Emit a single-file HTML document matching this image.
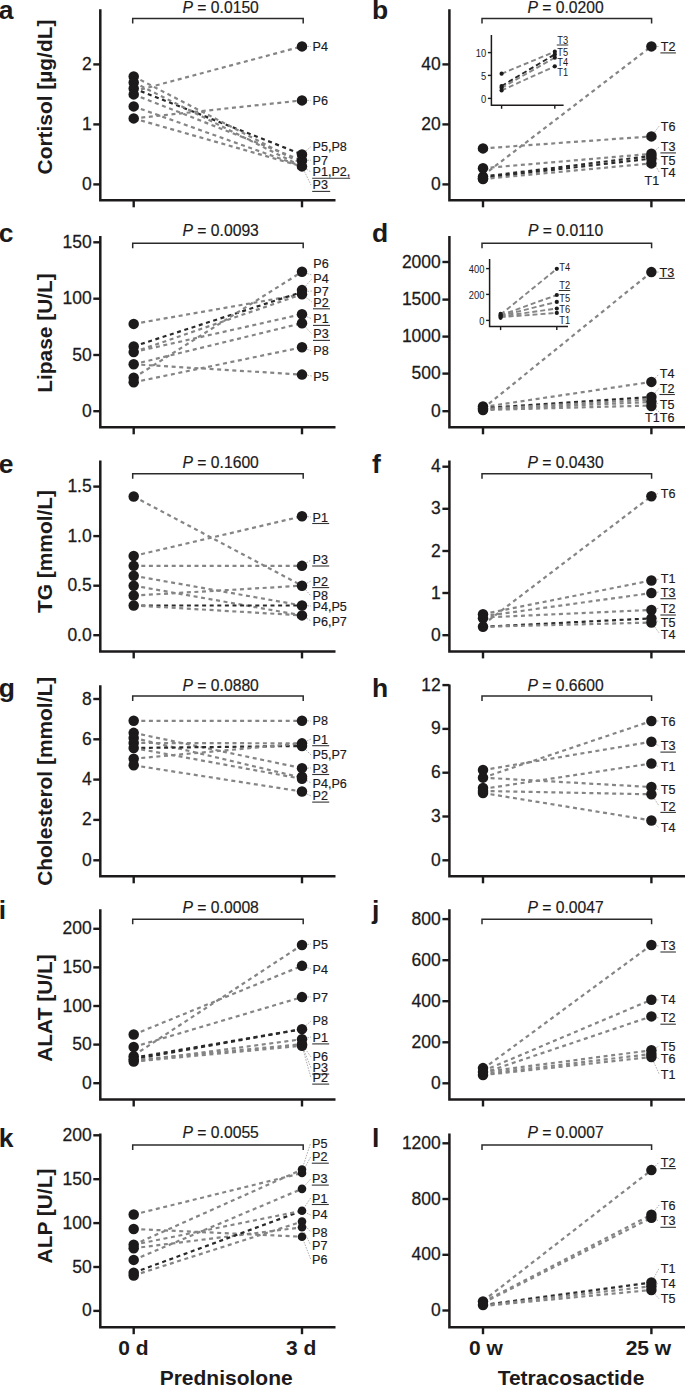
<!DOCTYPE html>
<html><head><meta charset="utf-8"><style>
html,body{margin:0;padding:0;background:#fff;}
svg{display:block;}
text{font-family:"Liberation Sans", sans-serif;fill:#1c1a1b;}
.tk{stroke:#1c1a1b;stroke-width:0.25px;}
.tl{stroke:#1c1a1b;stroke-width:0.18px;}
</style></head><body>
<svg width="685" height="1385" viewBox="0 0 685 1385">
<rect width="685" height="1385" fill="#fff"/>
<path d="M100.3 9.2 V200.3 H335.5" fill="none" stroke="#1c1a1b" stroke-width="2.5" stroke-linejoin="miter" stroke-linecap="butt"/>
<line x1="133.7" y1="200.3" x2="133.7" y2="207.3" stroke="#1c1a1b" stroke-width="2.4" />
<line x1="302" y1="200.3" x2="302" y2="207.3" stroke="#1c1a1b" stroke-width="2.4" />
<line x1="93.3" y1="184.4" x2="100.3" y2="184.4" stroke="#1c1a1b" stroke-width="2.4" />
<text transform="translate(91.7 189.9) scale(1 1.05)" font-size="17.5" text-anchor="end" class="tk">0</text>
<line x1="93.3" y1="124.4" x2="100.3" y2="124.4" stroke="#1c1a1b" stroke-width="2.4" />
<text transform="translate(91.7 129.9) scale(1 1.05)" font-size="17.5" text-anchor="end" class="tk">1</text>
<line x1="93.3" y1="64.4" x2="100.3" y2="64.4" stroke="#1c1a1b" stroke-width="2.4" />
<text transform="translate(91.7 69.9) scale(1 1.05)" font-size="17.5" text-anchor="end" class="tk">2</text>
<path d="M132.7 23.5 V18.5 H303.2 V23.5" fill="none" stroke="#2b2b2b" stroke-width="1.5"/>
<text x="220.7" y="12.7" font-size="15.7" text-anchor="middle" class="tl"><tspan font-style="italic">P</tspan> = 0.0150</text>
<line x1="133.7" y1="91.4" x2="302" y2="46.4" stroke="#858585" stroke-width="2.2" stroke-dasharray="4 3.6"/>
<line x1="133.7" y1="118.4" x2="302" y2="100.4" stroke="#858585" stroke-width="2.2" stroke-dasharray="4 3.6"/>
<line x1="133.7" y1="88.4" x2="302" y2="154.4" stroke="#2a2a2a" stroke-width="2.2" stroke-dasharray="4 3.6"/>
<line x1="133.7" y1="94.4" x2="302" y2="160.4" stroke="#858585" stroke-width="2.2" stroke-dasharray="4 3.6"/>
<line x1="133.7" y1="76.4" x2="302" y2="163.4" stroke="#858585" stroke-width="2.2" stroke-dasharray="4 3.6"/>
<line x1="133.7" y1="82.4" x2="302" y2="166.4" stroke="#858585" stroke-width="2.2" stroke-dasharray="4 3.6"/>
<line x1="133.7" y1="106.4" x2="302" y2="166.4" stroke="#858585" stroke-width="2.2" stroke-dasharray="4 3.6"/>
<line x1="133.7" y1="118.4" x2="302" y2="166.4" stroke="#858585" stroke-width="2.2" stroke-dasharray="4 3.6"/>
<line x1="307.5" y1="46.4" x2="311" y2="46.4" stroke="#9a9a9a" stroke-width="0.8" stroke-dasharray="1.6 1.2"/>
<line x1="307.5" y1="100.4" x2="311" y2="100.4" stroke="#9a9a9a" stroke-width="0.8" stroke-dasharray="1.6 1.2"/>
<line x1="306.13" y1="150.77" x2="311" y2="146.5" stroke="#9a9a9a" stroke-width="0.8" stroke-dasharray="1.6 1.2"/>
<line x1="307.5" y1="160.28" x2="311" y2="160.2" stroke="#9a9a9a" stroke-width="0.8" stroke-dasharray="1.6 1.2"/>
<line x1="306.67" y1="169.31" x2="311" y2="172" stroke="#9a9a9a" stroke-width="0.8" stroke-dasharray="1.6 1.2"/>
<line x1="304.4" y1="171.35" x2="311" y2="185" stroke="#9a9a9a" stroke-width="0.8" stroke-dasharray="1.6 1.2"/>
<circle cx="133.7" cy="76.4" r="5.25" fill="#1c1a1b"/>
<circle cx="133.7" cy="82.4" r="5.25" fill="#1c1a1b"/>
<circle cx="133.7" cy="88.4" r="5.25" fill="#1c1a1b"/>
<circle cx="133.7" cy="94.4" r="5.25" fill="#1c1a1b"/>
<circle cx="133.7" cy="106.4" r="5.25" fill="#1c1a1b"/>
<circle cx="133.7" cy="118.4" r="5.25" fill="#1c1a1b"/>
<circle cx="302" cy="46.4" r="5.25" fill="#1c1a1b"/>
<circle cx="302" cy="100.4" r="5.25" fill="#1c1a1b"/>
<circle cx="302" cy="154.4" r="5.25" fill="#1c1a1b"/>
<circle cx="302" cy="160.4" r="5.25" fill="#1c1a1b"/>
<circle cx="302" cy="166.4" r="5.25" fill="#1c1a1b"/>
<text x="312.5" y="50.8" font-size="12.6" class="tl">P4</text>
<text x="312.5" y="104.8" font-size="12.6" class="tl">P6</text>
<text x="312.5" y="151.4" font-size="12.6" class="tl">P5,P8</text>
<text x="312.5" y="164.6" font-size="12.6" class="tl">P7</text>
<text x="312.5" y="176.2" font-size="12.6" class="tl">P1,P2,</text>
<line x1="312.2" y1="178.2" x2="350.2" y2="178.2" stroke="#333" stroke-width="1.1" />
<text x="312.5" y="189.4" font-size="12.6" class="tl">P3</text>
<line x1="312.2" y1="191.4" x2="330.2" y2="191.4" stroke="#333" stroke-width="1.1" />
<text transform="translate(52.2 97) rotate(-90)" font-size="20.9" font-weight="bold" text-anchor="middle">Cortisol [µg/dL]</text>
<text x="-1.2" y="19" font-size="26.5" font-weight="bold" text-anchor="start" >a</text>
<path d="M449.4 9.2 V200.3 H686" fill="none" stroke="#1c1a1b" stroke-width="2.5" stroke-linejoin="miter" stroke-linecap="butt"/>
<line x1="483" y1="200.3" x2="483" y2="207.3" stroke="#1c1a1b" stroke-width="2.4" />
<line x1="651.4" y1="200.3" x2="651.4" y2="207.3" stroke="#1c1a1b" stroke-width="2.4" />
<line x1="442.4" y1="184.4" x2="449.4" y2="184.4" stroke="#1c1a1b" stroke-width="2.4" />
<text transform="translate(440.8 189.9) scale(1 1.05)" font-size="17.5" text-anchor="end" class="tk">0</text>
<line x1="442.4" y1="124.4" x2="449.4" y2="124.4" stroke="#1c1a1b" stroke-width="2.4" />
<text transform="translate(440.8 129.9) scale(1 1.05)" font-size="17.5" text-anchor="end" class="tk">20</text>
<line x1="442.4" y1="64.4" x2="449.4" y2="64.4" stroke="#1c1a1b" stroke-width="2.4" />
<text transform="translate(440.8 69.9) scale(1 1.05)" font-size="17.5" text-anchor="end" class="tk">40</text>
<path d="M482 23.5 V18.5 H651.6 V23.5" fill="none" stroke="#2b2b2b" stroke-width="1.5"/>
<text x="565.6" y="12.7" font-size="15.7" text-anchor="middle" class="tl"><tspan font-style="italic">P</tspan> = 0.0200</text>
<path d="M491.4 35 V105.3 H563.6" fill="none" stroke="#1c1a1b" stroke-width="1.5"/>
<line x1="501.6" y1="105.3" x2="501.6" y2="108.8" stroke="#1c1a1b" stroke-width="1.4" />
<line x1="554.8" y1="105.3" x2="554.8" y2="108.8" stroke="#1c1a1b" stroke-width="1.4" />
<line x1="487.9" y1="98.4" x2="491.4" y2="98.4" stroke="#1c1a1b" stroke-width="1.4" />
<text transform="translate(486.2 102.5) scale(0.82 1)" font-size="11.4" text-anchor="end">0</text>
<line x1="487.9" y1="75.4" x2="491.4" y2="75.4" stroke="#1c1a1b" stroke-width="1.4" />
<text transform="translate(486.2 79.5) scale(0.82 1)" font-size="11.4" text-anchor="end">5</text>
<line x1="487.9" y1="52.6" x2="491.4" y2="52.6" stroke="#1c1a1b" stroke-width="1.4" />
<text transform="translate(486.2 56.7) scale(0.82 1)" font-size="11.4" text-anchor="end">10</text>
<line x1="501.6" y1="73.67" x2="554.8" y2="51.68" stroke="#858585" stroke-width="1.9" stroke-dasharray="5 3"/>
<line x1="501.6" y1="86.03" x2="554.8" y2="54.43" stroke="#2a2a2a" stroke-width="1.9" stroke-dasharray="5 3"/>
<line x1="501.6" y1="87.87" x2="554.8" y2="57.64" stroke="#858585" stroke-width="1.9" stroke-dasharray="5 3"/>
<line x1="501.6" y1="90.39" x2="554.8" y2="66.34" stroke="#858585" stroke-width="1.9" stroke-dasharray="5 3"/>
<circle cx="501.6" cy="73.67" r="2.1" fill="#1c1a1b"/>
<circle cx="501.6" cy="86.03" r="2.1" fill="#1c1a1b"/>
<circle cx="501.6" cy="87.87" r="2.1" fill="#1c1a1b"/>
<circle cx="501.6" cy="90.39" r="2.1" fill="#1c1a1b"/>
<circle cx="554.8" cy="51.68" r="2.1" fill="#1c1a1b"/>
<circle cx="554.8" cy="54.43" r="2.1" fill="#1c1a1b"/>
<circle cx="554.8" cy="57.64" r="2.1" fill="#1c1a1b"/>
<circle cx="554.8" cy="66.34" r="2.1" fill="#1c1a1b"/>
<text transform="translate(557.3 43.7) scale(0.8 1)" font-size="11.6">T3</text>
<line x1="556.8" y1="45" x2="568.3" y2="45" stroke="#333" stroke-width="1" />
<text transform="translate(557.3 55.7) scale(0.8 1)" font-size="11.6">T5</text>
<text transform="translate(557.3 65.6) scale(0.8 1)" font-size="11.6">T4</text>
<text transform="translate(557.3 75.8) scale(0.8 1)" font-size="11.6">T1</text>
<line x1="483" y1="148.4" x2="651.4" y2="136.4" stroke="#858585" stroke-width="2.2" stroke-dasharray="4 3.6"/>
<line x1="483" y1="175.4" x2="651.4" y2="46.4" stroke="#858585" stroke-width="2.2" stroke-dasharray="4 3.6"/>
<line x1="483" y1="168.2" x2="651.4" y2="153.8" stroke="#858585" stroke-width="2.2" stroke-dasharray="4 3.6"/>
<line x1="483" y1="176.6" x2="651.4" y2="155.9" stroke="#2a2a2a" stroke-width="2.2" stroke-dasharray="4 3.6"/>
<line x1="483" y1="177.8" x2="651.4" y2="158.6" stroke="#2a2a2a" stroke-width="2.2" stroke-dasharray="4 3.6"/>
<line x1="483" y1="179" x2="651.4" y2="163.4" stroke="#858585" stroke-width="2.2" stroke-dasharray="4 3.6"/>
<line x1="656.9" y1="46.47" x2="659.2" y2="46.5" stroke="#9a9a9a" stroke-width="0.8" stroke-dasharray="1.6 1.2"/>
<line x1="654.7" y1="132" x2="659.2" y2="126" stroke="#9a9a9a" stroke-width="0.8" stroke-dasharray="1.6 1.2"/>
<line x1="655.55" y1="150.19" x2="659.2" y2="147" stroke="#9a9a9a" stroke-width="0.8" stroke-dasharray="1.6 1.2"/>
<line x1="656.27" y1="158.46" x2="659.2" y2="160" stroke="#9a9a9a" stroke-width="0.8" stroke-dasharray="1.6 1.2"/>
<line x1="654.17" y1="163.35" x2="659.2" y2="172" stroke="#9a9a9a" stroke-width="0.8" stroke-dasharray="1.6 1.2"/>
<circle cx="483" cy="148.4" r="5.25" fill="#1c1a1b"/>
<circle cx="483" cy="168.2" r="5.25" fill="#1c1a1b"/>
<circle cx="483" cy="176.6" r="5.25" fill="#1c1a1b"/>
<circle cx="483" cy="178.4" r="5.25" fill="#1c1a1b"/>
<circle cx="483" cy="179" r="5.25" fill="#1c1a1b"/>
<circle cx="651.4" cy="46.4" r="5.25" fill="#1c1a1b"/>
<circle cx="651.4" cy="136.4" r="5.25" fill="#1c1a1b"/>
<circle cx="651.4" cy="153.8" r="5.25" fill="#1c1a1b"/>
<circle cx="651.4" cy="155.9" r="5.25" fill="#1c1a1b"/>
<circle cx="651.4" cy="158.6" r="5.25" fill="#1c1a1b"/>
<circle cx="651.4" cy="163.4" r="5.25" fill="#1c1a1b"/>
<text x="660.7" y="51" font-size="12.6" class="tl">T2</text>
<line x1="660.4" y1="52.9" x2="675.9" y2="52.9" stroke="#333" stroke-width="1.1" />
<text x="660.7" y="130.5" font-size="12.6" class="tl">T6</text>
<text x="660.7" y="151" font-size="12.6" class="tl">T3</text>
<line x1="660.4" y1="152.9" x2="675.9" y2="152.9" stroke="#333" stroke-width="1.1" />
<text x="660.7" y="164.5" font-size="12.6" class="tl">T5</text>
<text x="660.7" y="176.5" font-size="12.6" class="tl">T4</text>
<text x="644.6" y="184.5" font-size="12.6" class="tl">T1</text>
<text x="372" y="19" font-size="26.5" font-weight="bold" text-anchor="start" >b</text>
<path d="M100.3 235.9 V427.3 H335.5" fill="none" stroke="#1c1a1b" stroke-width="2.5" stroke-linejoin="miter" stroke-linecap="butt"/>
<line x1="133.7" y1="427.3" x2="133.7" y2="434.3" stroke="#1c1a1b" stroke-width="2.4" />
<line x1="302" y1="427.3" x2="302" y2="434.3" stroke="#1c1a1b" stroke-width="2.4" />
<line x1="93.3" y1="411.2" x2="100.3" y2="411.2" stroke="#1c1a1b" stroke-width="2.4" />
<text transform="translate(91.7 416.7) scale(1 1.05)" font-size="17.5" text-anchor="end" class="tk">0</text>
<line x1="93.3" y1="355" x2="100.3" y2="355" stroke="#1c1a1b" stroke-width="2.4" />
<text transform="translate(91.7 360.5) scale(1 1.05)" font-size="17.5" text-anchor="end" class="tk">50</text>
<line x1="93.3" y1="298.7" x2="100.3" y2="298.7" stroke="#1c1a1b" stroke-width="2.4" />
<text transform="translate(91.7 304.2) scale(1 1.05)" font-size="17.5" text-anchor="end" class="tk">100</text>
<line x1="93.3" y1="242.3" x2="100.3" y2="242.3" stroke="#1c1a1b" stroke-width="2.4" />
<text transform="translate(91.7 247.8) scale(1 1.05)" font-size="17.5" text-anchor="end" class="tk">150</text>
<path d="M132.7 248.2 V243.2 H303.2 V248.2" fill="none" stroke="#2b2b2b" stroke-width="1.5"/>
<text x="220.7" y="235.5" font-size="15.7" text-anchor="middle" class="tl"><tspan font-style="italic">P</tspan> = 0.0093</text>
<line x1="133.7" y1="323.9" x2="302" y2="294.3" stroke="#858585" stroke-width="2.2" stroke-dasharray="4 3.6"/>
<line x1="133.7" y1="346.4" x2="302" y2="292" stroke="#2a2a2a" stroke-width="2.2" stroke-dasharray="4 3.6"/>
<line x1="133.7" y1="352.1" x2="302" y2="294.3" stroke="#858585" stroke-width="2.2" stroke-dasharray="4 3.6"/>
<line x1="133.7" y1="352.1" x2="302" y2="314.2" stroke="#858585" stroke-width="2.2" stroke-dasharray="4 3.6"/>
<line x1="133.7" y1="364.3" x2="302" y2="323.2" stroke="#858585" stroke-width="2.2" stroke-dasharray="4 3.6"/>
<line x1="133.7" y1="364.3" x2="302" y2="374.6" stroke="#858585" stroke-width="2.2" stroke-dasharray="4 3.6"/>
<line x1="133.7" y1="377.8" x2="302" y2="271.8" stroke="#858585" stroke-width="2.2" stroke-dasharray="4 3.6"/>
<line x1="133.7" y1="382.3" x2="302" y2="347.3" stroke="#858585" stroke-width="2.2" stroke-dasharray="4 3.6"/>
<line x1="307.23" y1="273.51" x2="311.8" y2="275" stroke="#9a9a9a" stroke-width="0.8" stroke-dasharray="1.6 1.2"/>
<line x1="305.64" y1="285.98" x2="311.8" y2="279" stroke="#9a9a9a" stroke-width="0.8" stroke-dasharray="1.6 1.2"/>
<line x1="307.47" y1="291.44" x2="311.8" y2="291" stroke="#9a9a9a" stroke-width="0.8" stroke-dasharray="1.6 1.2"/>
<line x1="306.32" y1="297.7" x2="311.8" y2="302" stroke="#9a9a9a" stroke-width="0.8" stroke-dasharray="1.6 1.2"/>
<line x1="306.94" y1="316.62" x2="311.8" y2="319" stroke="#9a9a9a" stroke-width="0.8" stroke-dasharray="1.6 1.2"/>
<line x1="305.7" y1="327.27" x2="311.8" y2="334" stroke="#9a9a9a" stroke-width="0.8" stroke-dasharray="1.6 1.2"/>
<line x1="307.15" y1="349.24" x2="311.8" y2="351" stroke="#9a9a9a" stroke-width="0.8" stroke-dasharray="1.6 1.2"/>
<line x1="307.44" y1="375.38" x2="311.8" y2="376" stroke="#9a9a9a" stroke-width="0.8" stroke-dasharray="1.6 1.2"/>
<circle cx="133.7" cy="323.9" r="5.25" fill="#1c1a1b"/>
<circle cx="133.7" cy="346.4" r="5.25" fill="#1c1a1b"/>
<circle cx="133.7" cy="352.1" r="5.25" fill="#1c1a1b"/>
<circle cx="133.7" cy="364.3" r="5.25" fill="#1c1a1b"/>
<circle cx="133.7" cy="377.8" r="5.25" fill="#1c1a1b"/>
<circle cx="133.7" cy="382.3" r="5.25" fill="#1c1a1b"/>
<circle cx="302" cy="271.8" r="5.25" fill="#1c1a1b"/>
<circle cx="302" cy="290.1" r="5.25" fill="#1c1a1b"/>
<circle cx="302" cy="294.3" r="5.25" fill="#1c1a1b"/>
<circle cx="302" cy="314.2" r="5.25" fill="#1c1a1b"/>
<circle cx="302" cy="323.2" r="5.25" fill="#1c1a1b"/>
<circle cx="302" cy="347.3" r="5.25" fill="#1c1a1b"/>
<circle cx="302" cy="374.6" r="5.25" fill="#1c1a1b"/>
<text x="313.3" y="268" font-size="12.6" class="tl">P6</text>
<text x="313.3" y="283.3" font-size="12.6" class="tl">P4</text>
<text x="313.3" y="295.5" font-size="12.6" class="tl">P7</text>
<text x="313.3" y="306.8" font-size="12.6" class="tl">P2</text>
<line x1="313" y1="308.8" x2="330" y2="308.8" stroke="#333" stroke-width="1.1" />
<text x="313.3" y="323.4" font-size="12.6" class="tl">P1</text>
<line x1="313" y1="325.4" x2="330" y2="325.4" stroke="#333" stroke-width="1.1" />
<text x="313.3" y="338.4" font-size="12.6" class="tl">P3</text>
<line x1="313" y1="340.4" x2="330" y2="340.4" stroke="#333" stroke-width="1.1" />
<text x="313.3" y="355.4" font-size="12.6" class="tl">P8</text>
<text x="313.3" y="380.7" font-size="12.6" class="tl">P5</text>
<text transform="translate(52.2 333) rotate(-90)" font-size="20.9" font-weight="bold" text-anchor="middle">Lipase [U/L]</text>
<text x="-1.2" y="242" font-size="26.5" font-weight="bold" text-anchor="start" >c</text>
<path d="M449.4 235.9 V427.3 H686" fill="none" stroke="#1c1a1b" stroke-width="2.5" stroke-linejoin="miter" stroke-linecap="butt"/>
<line x1="483" y1="427.3" x2="483" y2="434.3" stroke="#1c1a1b" stroke-width="2.4" />
<line x1="651.4" y1="427.3" x2="651.4" y2="434.3" stroke="#1c1a1b" stroke-width="2.4" />
<line x1="442.4" y1="411.2" x2="449.4" y2="411.2" stroke="#1c1a1b" stroke-width="2.4" />
<text transform="translate(440.8 416.7) scale(1 1.05)" font-size="17.5" text-anchor="end" class="tk">0</text>
<line x1="442.4" y1="373.6" x2="449.4" y2="373.6" stroke="#1c1a1b" stroke-width="2.4" />
<text transform="translate(440.8 379.1) scale(1 1.05)" font-size="17.5" text-anchor="end" class="tk">500</text>
<line x1="442.4" y1="336.6" x2="449.4" y2="336.6" stroke="#1c1a1b" stroke-width="2.4" />
<text transform="translate(440.8 342.1) scale(1 1.05)" font-size="17.5" text-anchor="end" class="tk">1000</text>
<line x1="442.4" y1="299.6" x2="449.4" y2="299.6" stroke="#1c1a1b" stroke-width="2.4" />
<text transform="translate(440.8 305.1) scale(1 1.05)" font-size="17.5" text-anchor="end" class="tk">1500</text>
<line x1="442.4" y1="262" x2="449.4" y2="262" stroke="#1c1a1b" stroke-width="2.4" />
<text transform="translate(440.8 267.5) scale(1 1.05)" font-size="17.5" text-anchor="end" class="tk">2000</text>
<path d="M482 248.2 V243.2 H651.6 V248.2" fill="none" stroke="#2b2b2b" stroke-width="1.5"/>
<text x="565.6" y="235.5" font-size="15.7" text-anchor="middle" class="tl"><tspan font-style="italic">P</tspan> = 0.0110</text>
<path d="M489.6 259 V326.6 H568" fill="none" stroke="#1c1a1b" stroke-width="1.5"/>
<line x1="500.6" y1="326.6" x2="500.6" y2="330.1" stroke="#1c1a1b" stroke-width="1.4" />
<line x1="556.8" y1="326.6" x2="556.8" y2="330.1" stroke="#1c1a1b" stroke-width="1.4" />
<line x1="486.1" y1="320.4" x2="489.6" y2="320.4" stroke="#1c1a1b" stroke-width="1.4" />
<text transform="translate(484.4 324.5) scale(0.82 1)" font-size="11.4" text-anchor="end">0</text>
<line x1="486.1" y1="294.4" x2="489.6" y2="294.4" stroke="#1c1a1b" stroke-width="1.4" />
<text transform="translate(484.4 298.5) scale(0.82 1)" font-size="11.4" text-anchor="end">200</text>
<line x1="486.1" y1="268.6" x2="489.6" y2="268.6" stroke="#1c1a1b" stroke-width="1.4" />
<text transform="translate(484.4 272.7) scale(0.82 1)" font-size="11.4" text-anchor="end">400</text>
<line x1="500.6" y1="314.57" x2="556.8" y2="268.86" stroke="#858585" stroke-width="1.9" stroke-dasharray="5 3"/>
<line x1="500.6" y1="315.22" x2="556.8" y2="295.02" stroke="#858585" stroke-width="1.9" stroke-dasharray="5 3"/>
<line x1="500.6" y1="315.87" x2="556.8" y2="301.88" stroke="#858585" stroke-width="1.9" stroke-dasharray="5 3"/>
<line x1="500.6" y1="316.51" x2="556.8" y2="308.49" stroke="#858585" stroke-width="1.9" stroke-dasharray="5 3"/>
<line x1="500.6" y1="317.16" x2="556.8" y2="312.89" stroke="#858585" stroke-width="1.9" stroke-dasharray="5 3"/>
<circle cx="500.6" cy="313.92" r="2.1" fill="#1c1a1b"/>
<circle cx="500.6" cy="315.22" r="2.1" fill="#1c1a1b"/>
<circle cx="500.6" cy="316.51" r="2.1" fill="#1c1a1b"/>
<circle cx="500.6" cy="317.81" r="2.1" fill="#1c1a1b"/>
<circle cx="556.8" cy="268.86" r="2.1" fill="#1c1a1b"/>
<circle cx="556.8" cy="295.02" r="2.1" fill="#1c1a1b"/>
<circle cx="556.8" cy="301.88" r="2.1" fill="#1c1a1b"/>
<circle cx="556.8" cy="308.49" r="2.1" fill="#1c1a1b"/>
<circle cx="556.8" cy="312.89" r="2.1" fill="#1c1a1b"/>
<text transform="translate(559.3 270.5) scale(0.8 1)" font-size="11.6">T4</text>
<text transform="translate(559.3 289.2) scale(0.8 1)" font-size="11.6">T2</text>
<line x1="558.8" y1="290.5" x2="570.3" y2="290.5" stroke="#333" stroke-width="1" />
<text transform="translate(559.3 302.3) scale(0.8 1)" font-size="11.6">T5</text>
<text transform="translate(559.3 312.8) scale(0.8 1)" font-size="11.6">T6</text>
<text transform="translate(559.3 324.2) scale(0.8 1)" font-size="11.6">T1</text>
<line x1="483" y1="408.5" x2="651.4" y2="272.1" stroke="#858585" stroke-width="2.2" stroke-dasharray="4 3.6"/>
<line x1="483" y1="407" x2="651.4" y2="381.9" stroke="#858585" stroke-width="2.2" stroke-dasharray="4 3.6"/>
<line x1="483" y1="408" x2="651.4" y2="397" stroke="#2a2a2a" stroke-width="2.2" stroke-dasharray="4 3.6"/>
<line x1="483" y1="409" x2="651.4" y2="399.5" stroke="#858585" stroke-width="2.2" stroke-dasharray="4 3.6"/>
<line x1="483" y1="409.5" x2="651.4" y2="402" stroke="#858585" stroke-width="2.2" stroke-dasharray="4 3.6"/>
<line x1="483" y1="410" x2="651.4" y2="405.5" stroke="#858585" stroke-width="2.2" stroke-dasharray="4 3.6"/>
<line x1="656.9" y1="272.1" x2="659.2" y2="272.1" stroke="#9a9a9a" stroke-width="0.8" stroke-dasharray="1.6 1.2"/>
<line x1="655.26" y1="377.99" x2="659.2" y2="374" stroke="#9a9a9a" stroke-width="0.8" stroke-dasharray="1.6 1.2"/>
<line x1="655" y1="392.84" x2="659.2" y2="388" stroke="#9a9a9a" stroke-width="0.8" stroke-dasharray="1.6 1.2"/>
<line x1="656.64" y1="403.18" x2="659.2" y2="404" stroke="#9a9a9a" stroke-width="0.8" stroke-dasharray="1.6 1.2"/>
<line x1="655.76" y1="409.35" x2="659.2" y2="412" stroke="#9a9a9a" stroke-width="0.8" stroke-dasharray="1.6 1.2"/>
<circle cx="483" cy="406.5" r="5.25" fill="#1c1a1b"/>
<circle cx="483" cy="408.5" r="5.25" fill="#1c1a1b"/>
<circle cx="483" cy="410" r="5.25" fill="#1c1a1b"/>
<circle cx="651.4" cy="272.1" r="5.25" fill="#1c1a1b"/>
<circle cx="651.4" cy="381.9" r="5.25" fill="#1c1a1b"/>
<circle cx="651.4" cy="397" r="5.25" fill="#1c1a1b"/>
<circle cx="651.4" cy="401.5" r="5.25" fill="#1c1a1b"/>
<circle cx="651.4" cy="406" r="5.25" fill="#1c1a1b"/>
<text x="659.5" y="276.5" font-size="12.6" class="tl">T3</text>
<line x1="659.2" y1="278.4" x2="674.7" y2="278.4" stroke="#333" stroke-width="1.1" />
<text x="659.7" y="378.4" font-size="12.6" class="tl">T4</text>
<text x="659.7" y="392.6" font-size="12.6" class="tl">T2</text>
<line x1="659.4" y1="394.5" x2="674.9" y2="394.5" stroke="#333" stroke-width="1.1" />
<text x="659.7" y="409" font-size="12.6" class="tl">T5</text>
<text x="645.1" y="422.1" font-size="12.6" class="tl">T1T6</text>
<text x="372" y="242" font-size="26.5" font-weight="bold" text-anchor="start" >d</text>
<path d="M100.3 460.4 V651.4 H335.5" fill="none" stroke="#1c1a1b" stroke-width="2.5" stroke-linejoin="miter" stroke-linecap="butt"/>
<line x1="133.7" y1="651.4" x2="133.7" y2="658.4" stroke="#1c1a1b" stroke-width="2.4" />
<line x1="302" y1="651.4" x2="302" y2="658.4" stroke="#1c1a1b" stroke-width="2.4" />
<line x1="93.3" y1="635.2" x2="100.3" y2="635.2" stroke="#1c1a1b" stroke-width="2.4" />
<text transform="translate(91.7 640.7) scale(1 1.05)" font-size="17.5" text-anchor="end" class="tk">0.0</text>
<line x1="93.3" y1="585.7" x2="100.3" y2="585.7" stroke="#1c1a1b" stroke-width="2.4" />
<text transform="translate(91.7 591.2) scale(1 1.05)" font-size="17.5" text-anchor="end" class="tk">0.5</text>
<line x1="93.3" y1="536.1" x2="100.3" y2="536.1" stroke="#1c1a1b" stroke-width="2.4" />
<text transform="translate(91.7 541.6) scale(1 1.05)" font-size="17.5" text-anchor="end" class="tk">1.0</text>
<line x1="93.3" y1="486.6" x2="100.3" y2="486.6" stroke="#1c1a1b" stroke-width="2.4" />
<text transform="translate(91.7 492.1) scale(1 1.05)" font-size="17.5" text-anchor="end" class="tk">1.5</text>
<path d="M132.7 478.8 V473.8 H303.2 V478.8" fill="none" stroke="#2b2b2b" stroke-width="1.5"/>
<text x="220.7" y="467.6" font-size="15.7" text-anchor="middle" class="tl"><tspan font-style="italic">P</tspan> = 0.1600</text>
<line x1="133.7" y1="496.51" x2="302" y2="585.67" stroke="#858585" stroke-width="2.2" stroke-dasharray="4 3.6"/>
<line x1="133.7" y1="555.95" x2="302" y2="516.32" stroke="#858585" stroke-width="2.2" stroke-dasharray="4 3.6"/>
<line x1="133.7" y1="565.85" x2="302" y2="565.85" stroke="#858585" stroke-width="2.2" stroke-dasharray="4 3.6"/>
<line x1="133.7" y1="575.76" x2="302" y2="605.48" stroke="#858585" stroke-width="2.2" stroke-dasharray="4 3.6"/>
<line x1="133.7" y1="585.67" x2="302" y2="615.39" stroke="#858585" stroke-width="2.2" stroke-dasharray="4 3.6"/>
<line x1="133.7" y1="595.57" x2="302" y2="585.67" stroke="#858585" stroke-width="2.2" stroke-dasharray="4 3.6"/>
<line x1="133.7" y1="605.48" x2="302" y2="605.48" stroke="#2a2a2a" stroke-width="2.2" stroke-dasharray="4 3.6"/>
<line x1="133.7" y1="605.48" x2="302" y2="615.39" stroke="#858585" stroke-width="2.2" stroke-dasharray="4 3.6"/>
<line x1="307.48" y1="516.73" x2="311" y2="517" stroke="#9a9a9a" stroke-width="0.8" stroke-dasharray="1.6 1.2"/>
<line x1="306.61" y1="562.85" x2="311" y2="560" stroke="#9a9a9a" stroke-width="0.8" stroke-dasharray="1.6 1.2"/>
<line x1="306.88" y1="583.13" x2="311" y2="581" stroke="#9a9a9a" stroke-width="0.8" stroke-dasharray="1.6 1.2"/>
<line x1="305.61" y1="589.81" x2="311" y2="596" stroke="#9a9a9a" stroke-width="0.8" stroke-dasharray="1.6 1.2"/>
<line x1="307.49" y1="605.8" x2="311" y2="606" stroke="#9a9a9a" stroke-width="0.8" stroke-dasharray="1.6 1.2"/>
<line x1="306.67" y1="618.3" x2="311" y2="621" stroke="#9a9a9a" stroke-width="0.8" stroke-dasharray="1.6 1.2"/>
<circle cx="133.7" cy="496.51" r="5.25" fill="#1c1a1b"/>
<circle cx="133.7" cy="555.95" r="5.25" fill="#1c1a1b"/>
<circle cx="133.7" cy="565.85" r="5.25" fill="#1c1a1b"/>
<circle cx="133.7" cy="575.76" r="5.25" fill="#1c1a1b"/>
<circle cx="133.7" cy="585.67" r="5.25" fill="#1c1a1b"/>
<circle cx="133.7" cy="595.57" r="5.25" fill="#1c1a1b"/>
<circle cx="133.7" cy="605.48" r="5.25" fill="#1c1a1b"/>
<circle cx="302" cy="516.32" r="5.25" fill="#1c1a1b"/>
<circle cx="302" cy="565.85" r="5.25" fill="#1c1a1b"/>
<circle cx="302" cy="585.67" r="5.25" fill="#1c1a1b"/>
<circle cx="302" cy="605.48" r="5.25" fill="#1c1a1b"/>
<circle cx="302" cy="615.39" r="5.25" fill="#1c1a1b"/>
<text x="312.5" y="521.5" font-size="12.6" class="tl">P1</text>
<line x1="312.2" y1="523.5" x2="329.2" y2="523.5" stroke="#333" stroke-width="1.1" />
<text x="312.5" y="564" font-size="12.6" class="tl">P3</text>
<line x1="312.2" y1="566" x2="329.2" y2="566" stroke="#333" stroke-width="1.1" />
<text x="312.5" y="585.6" font-size="12.6" class="tl">P2</text>
<line x1="312.2" y1="587.6" x2="329.2" y2="587.6" stroke="#333" stroke-width="1.1" />
<text x="312.5" y="600" font-size="12.6" class="tl">P8</text>
<text x="312.5" y="611" font-size="12.6" class="tl">P4,P5</text>
<text x="312.5" y="625.7" font-size="12.6" class="tl">P6,P7</text>
<text transform="translate(52.2 551.5) rotate(-90)" font-size="20.9" font-weight="bold" text-anchor="middle">TG [mmol/L]</text>
<text x="-1.2" y="472.7" font-size="26.5" font-weight="bold" text-anchor="start" >e</text>
<path d="M449.4 460.4 V651.4 H686" fill="none" stroke="#1c1a1b" stroke-width="2.5" stroke-linejoin="miter" stroke-linecap="butt"/>
<line x1="483" y1="651.4" x2="483" y2="658.4" stroke="#1c1a1b" stroke-width="2.4" />
<line x1="651.4" y1="651.4" x2="651.4" y2="658.4" stroke="#1c1a1b" stroke-width="2.4" />
<line x1="442.4" y1="635.2" x2="449.4" y2="635.2" stroke="#1c1a1b" stroke-width="2.4" />
<text transform="translate(440.8 640.7) scale(1 1.05)" font-size="17.5" text-anchor="end" class="tk">0</text>
<line x1="442.4" y1="593" x2="449.4" y2="593" stroke="#1c1a1b" stroke-width="2.4" />
<text transform="translate(440.8 598.5) scale(1 1.05)" font-size="17.5" text-anchor="end" class="tk">1</text>
<line x1="442.4" y1="551" x2="449.4" y2="551" stroke="#1c1a1b" stroke-width="2.4" />
<text transform="translate(440.8 556.5) scale(1 1.05)" font-size="17.5" text-anchor="end" class="tk">2</text>
<line x1="442.4" y1="508.8" x2="449.4" y2="508.8" stroke="#1c1a1b" stroke-width="2.4" />
<text transform="translate(440.8 514.3) scale(1 1.05)" font-size="17.5" text-anchor="end" class="tk">3</text>
<line x1="442.4" y1="466.7" x2="449.4" y2="466.7" stroke="#1c1a1b" stroke-width="2.4" />
<text transform="translate(440.8 472.2) scale(1 1.05)" font-size="17.5" text-anchor="end" class="tk">4</text>
<path d="M482 478.8 V473.8 H651.6 V478.8" fill="none" stroke="#2b2b2b" stroke-width="1.5"/>
<text x="565.6" y="467.6" font-size="15.7" text-anchor="middle" class="tl"><tspan font-style="italic">P</tspan> = 0.0430</text>
<line x1="483" y1="624.67" x2="651.4" y2="496.19" stroke="#858585" stroke-width="2.2" stroke-dasharray="4 3.6"/>
<line x1="483" y1="614.14" x2="651.4" y2="580.44" stroke="#858585" stroke-width="2.2" stroke-dasharray="4 3.6"/>
<line x1="483" y1="616.24" x2="651.4" y2="593.08" stroke="#858585" stroke-width="2.2" stroke-dasharray="4 3.6"/>
<line x1="483" y1="617.51" x2="651.4" y2="609.93" stroke="#858585" stroke-width="2.2" stroke-dasharray="4 3.6"/>
<line x1="483" y1="626.78" x2="651.4" y2="618.35" stroke="#2a2a2a" stroke-width="2.2" stroke-dasharray="4 3.6"/>
<line x1="483" y1="626.78" x2="651.4" y2="622.56" stroke="#858585" stroke-width="2.2" stroke-dasharray="4 3.6"/>
<line x1="656.49" y1="494.11" x2="659.2" y2="493" stroke="#9a9a9a" stroke-width="0.8" stroke-dasharray="1.6 1.2"/>
<line x1="656.81" y1="579.44" x2="659.2" y2="579" stroke="#9a9a9a" stroke-width="0.8" stroke-dasharray="1.6 1.2"/>
<line x1="656.85" y1="592.32" x2="659.2" y2="592" stroke="#9a9a9a" stroke-width="0.8" stroke-dasharray="1.6 1.2"/>
<line x1="656.74" y1="608.61" x2="659.2" y2="608" stroke="#9a9a9a" stroke-width="0.8" stroke-dasharray="1.6 1.2"/>
<line x1="656.38" y1="620.68" x2="659.2" y2="622" stroke="#9a9a9a" stroke-width="0.8" stroke-dasharray="1.6 1.2"/>
<line x1="654.69" y1="626.97" x2="659.2" y2="633" stroke="#9a9a9a" stroke-width="0.8" stroke-dasharray="1.6 1.2"/>
<circle cx="483" cy="614.14" r="5.25" fill="#1c1a1b"/>
<circle cx="483" cy="618.35" r="5.25" fill="#1c1a1b"/>
<circle cx="483" cy="626.78" r="5.25" fill="#1c1a1b"/>
<circle cx="651.4" cy="496.19" r="5.25" fill="#1c1a1b"/>
<circle cx="651.4" cy="580.44" r="5.25" fill="#1c1a1b"/>
<circle cx="651.4" cy="593.08" r="5.25" fill="#1c1a1b"/>
<circle cx="651.4" cy="609.93" r="5.25" fill="#1c1a1b"/>
<circle cx="651.4" cy="618.35" r="5.25" fill="#1c1a1b"/>
<circle cx="651.4" cy="622.56" r="5.25" fill="#1c1a1b"/>
<text x="660.7" y="497.6" font-size="12.6" class="tl">T6</text>
<text x="660.7" y="583.3" font-size="12.6" class="tl">T1</text>
<text x="660.7" y="596.8" font-size="12.6" class="tl">T3</text>
<line x1="660.4" y1="598.7" x2="675.9" y2="598.7" stroke="#333" stroke-width="1.1" />
<text x="660.7" y="613.1" font-size="12.6" class="tl">T2</text>
<line x1="660.4" y1="615" x2="675.9" y2="615" stroke="#333" stroke-width="1.1" />
<text x="660.7" y="627.2" font-size="12.6" class="tl">T5</text>
<text x="660.7" y="638.8" font-size="12.6" class="tl">T4</text>
<text x="372" y="472.7" font-size="26.5" font-weight="bold" text-anchor="start" >f</text>
<path d="M100.3 685.2 V876.3 H335.5" fill="none" stroke="#1c1a1b" stroke-width="2.5" stroke-linejoin="miter" stroke-linecap="butt"/>
<line x1="133.7" y1="876.3" x2="133.7" y2="883.3" stroke="#1c1a1b" stroke-width="2.4" />
<line x1="302" y1="876.3" x2="302" y2="883.3" stroke="#1c1a1b" stroke-width="2.4" />
<line x1="93.3" y1="860.3" x2="100.3" y2="860.3" stroke="#1c1a1b" stroke-width="2.4" />
<text transform="translate(91.7 865.8) scale(1 1.05)" font-size="17.5" text-anchor="end" class="tk">0</text>
<line x1="93.3" y1="819.9" x2="100.3" y2="819.9" stroke="#1c1a1b" stroke-width="2.4" />
<text transform="translate(91.7 825.4) scale(1 1.05)" font-size="17.5" text-anchor="end" class="tk">2</text>
<line x1="93.3" y1="779.6" x2="100.3" y2="779.6" stroke="#1c1a1b" stroke-width="2.4" />
<text transform="translate(91.7 785.1) scale(1 1.05)" font-size="17.5" text-anchor="end" class="tk">4</text>
<line x1="93.3" y1="739.3" x2="100.3" y2="739.3" stroke="#1c1a1b" stroke-width="2.4" />
<text transform="translate(91.7 744.8) scale(1 1.05)" font-size="17.5" text-anchor="end" class="tk">6</text>
<line x1="93.3" y1="699" x2="100.3" y2="699" stroke="#1c1a1b" stroke-width="2.4" />
<text transform="translate(91.7 704.5) scale(1 1.05)" font-size="17.5" text-anchor="end" class="tk">8</text>
<path d="M132.7 701 V696 H303.2 V701" fill="none" stroke="#2b2b2b" stroke-width="1.5"/>
<text x="220.7" y="690.6" font-size="15.7" text-anchor="middle" class="tl"><tspan font-style="italic">P</tspan> = 0.0880</text>
<line x1="133.7" y1="720.78" x2="302" y2="720.78" stroke="#858585" stroke-width="2.2" stroke-dasharray="4 3.6"/>
<line x1="133.7" y1="732.87" x2="302" y2="768.16" stroke="#858585" stroke-width="2.2" stroke-dasharray="4 3.6"/>
<line x1="133.7" y1="737.91" x2="302" y2="777.63" stroke="#858585" stroke-width="2.2" stroke-dasharray="4 3.6"/>
<line x1="133.7" y1="742.95" x2="302" y2="743.36" stroke="#858585" stroke-width="2.2" stroke-dasharray="4 3.6"/>
<line x1="133.7" y1="747.99" x2="302" y2="745.98" stroke="#2a2a2a" stroke-width="2.2" stroke-dasharray="4 3.6"/>
<line x1="133.7" y1="747.99" x2="302" y2="778.84" stroke="#858585" stroke-width="2.2" stroke-dasharray="4 3.6"/>
<line x1="133.7" y1="758.68" x2="302" y2="743.36" stroke="#858585" stroke-width="2.2" stroke-dasharray="4 3.6"/>
<line x1="133.7" y1="765.33" x2="302" y2="791.55" stroke="#858585" stroke-width="2.2" stroke-dasharray="4 3.6"/>
<line x1="307.5" y1="720.91" x2="311" y2="721" stroke="#9a9a9a" stroke-width="0.8" stroke-dasharray="1.6 1.2"/>
<line x1="306.95" y1="740.96" x2="311" y2="739" stroke="#9a9a9a" stroke-width="0.8" stroke-dasharray="1.6 1.2"/>
<line x1="305.88" y1="749.87" x2="311" y2="755" stroke="#9a9a9a" stroke-width="0.8" stroke-dasharray="1.6 1.2"/>
<line x1="307.5" y1="768.06" x2="311" y2="768" stroke="#9a9a9a" stroke-width="0.8" stroke-dasharray="1.6 1.2"/>
<line x1="306.72" y1="780.45" x2="311" y2="783" stroke="#9a9a9a" stroke-width="0.8" stroke-dasharray="1.6 1.2"/>
<line x1="306.93" y1="793.99" x2="311" y2="796" stroke="#9a9a9a" stroke-width="0.8" stroke-dasharray="1.6 1.2"/>
<circle cx="133.7" cy="720.78" r="5.25" fill="#1c1a1b"/>
<circle cx="133.7" cy="732.87" r="5.25" fill="#1c1a1b"/>
<circle cx="133.7" cy="737.91" r="5.25" fill="#1c1a1b"/>
<circle cx="133.7" cy="742.95" r="5.25" fill="#1c1a1b"/>
<circle cx="133.7" cy="747.99" r="5.25" fill="#1c1a1b"/>
<circle cx="133.7" cy="758.68" r="5.25" fill="#1c1a1b"/>
<circle cx="133.7" cy="765.33" r="5.25" fill="#1c1a1b"/>
<circle cx="302" cy="720.78" r="5.25" fill="#1c1a1b"/>
<circle cx="302" cy="743.36" r="5.25" fill="#1c1a1b"/>
<circle cx="302" cy="745.98" r="5.25" fill="#1c1a1b"/>
<circle cx="302" cy="768.16" r="5.25" fill="#1c1a1b"/>
<circle cx="302" cy="776.63" r="5.25" fill="#1c1a1b"/>
<circle cx="302" cy="778.84" r="5.25" fill="#1c1a1b"/>
<circle cx="302" cy="791.55" r="5.25" fill="#1c1a1b"/>
<text x="312.5" y="725.2" font-size="12.6" class="tl">P8</text>
<text x="312.5" y="743.7" font-size="12.6" class="tl">P1</text>
<line x1="312.2" y1="745.7" x2="329.2" y2="745.7" stroke="#333" stroke-width="1.1" />
<text x="312.5" y="759.1" font-size="12.6" class="tl">P5,P7</text>
<text x="312.5" y="772.5" font-size="12.6" class="tl">P3</text>
<line x1="312.2" y1="774.5" x2="329.2" y2="774.5" stroke="#333" stroke-width="1.1" />
<text x="312.5" y="787.6" font-size="12.6" class="tl">P4,P6</text>
<text x="312.5" y="800.1" font-size="12.6" class="tl">P2</text>
<line x1="312.2" y1="802.1" x2="329.2" y2="802.1" stroke="#333" stroke-width="1.1" />
<text transform="translate(52.2 781.3) rotate(-90)" font-size="20.9" font-weight="bold" text-anchor="middle">Cholesterol [mmol/L]</text>
<text x="-1.2" y="696.5" font-size="26.5" font-weight="bold" text-anchor="start" >g</text>
<path d="M449.4 684.4 V876.3 H686" fill="none" stroke="#1c1a1b" stroke-width="2.5" stroke-linejoin="miter" stroke-linecap="butt"/>
<line x1="483" y1="876.3" x2="483" y2="883.3" stroke="#1c1a1b" stroke-width="2.4" />
<line x1="651.4" y1="876.3" x2="651.4" y2="883.3" stroke="#1c1a1b" stroke-width="2.4" />
<line x1="442.4" y1="860.3" x2="449.4" y2="860.3" stroke="#1c1a1b" stroke-width="2.4" />
<text transform="translate(440.8 865.8) scale(1 1.05)" font-size="17.5" text-anchor="end" class="tk">0</text>
<line x1="442.4" y1="816.5" x2="449.4" y2="816.5" stroke="#1c1a1b" stroke-width="2.4" />
<text transform="translate(440.8 822) scale(1 1.05)" font-size="17.5" text-anchor="end" class="tk">3</text>
<line x1="442.4" y1="772.7" x2="449.4" y2="772.7" stroke="#1c1a1b" stroke-width="2.4" />
<text transform="translate(440.8 778.2) scale(1 1.05)" font-size="17.5" text-anchor="end" class="tk">6</text>
<line x1="442.4" y1="728.9" x2="449.4" y2="728.9" stroke="#1c1a1b" stroke-width="2.4" />
<text transform="translate(440.8 734.4) scale(1 1.05)" font-size="17.5" text-anchor="end" class="tk">9</text>
<line x1="442.4" y1="685.1" x2="449.4" y2="685.1" stroke="#1c1a1b" stroke-width="2.4" />
<text transform="translate(440.8 690.6) scale(1 1.05)" font-size="17.5" text-anchor="end" class="tk">12</text>
<path d="M482 701 V696 H651.6 V701" fill="none" stroke="#2b2b2b" stroke-width="1.5"/>
<text x="565.6" y="690.6" font-size="15.7" text-anchor="middle" class="tl"><tspan font-style="italic">P</tspan> = 0.6600</text>
<line x1="483" y1="770.07" x2="651.4" y2="741.75" stroke="#858585" stroke-width="2.2" stroke-dasharray="4 3.6"/>
<line x1="483" y1="777.66" x2="651.4" y2="721.02" stroke="#858585" stroke-width="2.2" stroke-dasharray="4 3.6"/>
<line x1="483" y1="788.91" x2="651.4" y2="763.5" stroke="#858585" stroke-width="2.2" stroke-dasharray="4 3.6"/>
<line x1="483" y1="777.66" x2="651.4" y2="787.01" stroke="#858585" stroke-width="2.2" stroke-dasharray="4 3.6"/>
<line x1="483" y1="790.95" x2="651.4" y2="794.31" stroke="#858585" stroke-width="2.2" stroke-dasharray="4 3.6"/>
<line x1="483" y1="792.99" x2="651.4" y2="820.44" stroke="#858585" stroke-width="2.2" stroke-dasharray="4 3.6"/>
<line x1="656.9" y1="721" x2="659.2" y2="721" stroke="#9a9a9a" stroke-width="0.8" stroke-dasharray="1.6 1.2"/>
<line x1="656.23" y1="744.38" x2="659.2" y2="746" stroke="#9a9a9a" stroke-width="0.8" stroke-dasharray="1.6 1.2"/>
<line x1="656.42" y1="765.75" x2="659.2" y2="767" stroke="#9a9a9a" stroke-width="0.8" stroke-dasharray="1.6 1.2"/>
<line x1="656.54" y1="788.98" x2="659.2" y2="790" stroke="#9a9a9a" stroke-width="0.8" stroke-dasharray="1.6 1.2"/>
<line x1="654.45" y1="798.88" x2="659.2" y2="806" stroke="#9a9a9a" stroke-width="0.8" stroke-dasharray="1.6 1.2"/>
<line x1="655.35" y1="824.27" x2="659.2" y2="828" stroke="#9a9a9a" stroke-width="0.8" stroke-dasharray="1.6 1.2"/>
<circle cx="483" cy="770.07" r="5.25" fill="#1c1a1b"/>
<circle cx="483" cy="777.66" r="5.25" fill="#1c1a1b"/>
<circle cx="483" cy="788.03" r="5.25" fill="#1c1a1b"/>
<circle cx="483" cy="790.95" r="5.25" fill="#1c1a1b"/>
<circle cx="483" cy="792.99" r="5.25" fill="#1c1a1b"/>
<circle cx="651.4" cy="721.02" r="5.25" fill="#1c1a1b"/>
<circle cx="651.4" cy="741.75" r="5.25" fill="#1c1a1b"/>
<circle cx="651.4" cy="763.5" r="5.25" fill="#1c1a1b"/>
<circle cx="651.4" cy="787.01" r="5.25" fill="#1c1a1b"/>
<circle cx="651.4" cy="794.31" r="5.25" fill="#1c1a1b"/>
<circle cx="651.4" cy="820.44" r="5.25" fill="#1c1a1b"/>
<text x="660.7" y="725.7" font-size="12.6" class="tl">T6</text>
<text x="660.7" y="750.2" font-size="12.6" class="tl">T3</text>
<line x1="660.4" y1="752.1" x2="675.9" y2="752.1" stroke="#333" stroke-width="1.1" />
<text x="660.7" y="771.2" font-size="12.6" class="tl">T1</text>
<text x="660.7" y="794.1" font-size="12.6" class="tl">T5</text>
<text x="660.7" y="810.5" font-size="12.6" class="tl">T2</text>
<line x1="660.4" y1="812.4" x2="675.9" y2="812.4" stroke="#333" stroke-width="1.1" />
<text x="660.7" y="832.4" font-size="12.6" class="tl">T4</text>
<text x="372" y="696.5" font-size="26.5" font-weight="bold" text-anchor="start" >h</text>
<path d="M100.3 909.2 V1099.5 H335.5" fill="none" stroke="#1c1a1b" stroke-width="2.5" stroke-linejoin="miter" stroke-linecap="butt"/>
<line x1="133.7" y1="1099.5" x2="133.7" y2="1106.5" stroke="#1c1a1b" stroke-width="2.4" />
<line x1="302" y1="1099.5" x2="302" y2="1106.5" stroke="#1c1a1b" stroke-width="2.4" />
<line x1="93.3" y1="1083.2" x2="100.3" y2="1083.2" stroke="#1c1a1b" stroke-width="2.4" />
<text transform="translate(91.7 1088.7) scale(1 1.05)" font-size="17.5" text-anchor="end" class="tk">0</text>
<line x1="93.3" y1="1044.6" x2="100.3" y2="1044.6" stroke="#1c1a1b" stroke-width="2.4" />
<text transform="translate(91.7 1050.1) scale(1 1.05)" font-size="17.5" text-anchor="end" class="tk">50</text>
<line x1="93.3" y1="1006" x2="100.3" y2="1006" stroke="#1c1a1b" stroke-width="2.4" />
<text transform="translate(91.7 1011.5) scale(1 1.05)" font-size="17.5" text-anchor="end" class="tk">100</text>
<line x1="93.3" y1="967.4" x2="100.3" y2="967.4" stroke="#1c1a1b" stroke-width="2.4" />
<text transform="translate(91.7 972.9) scale(1 1.05)" font-size="17.5" text-anchor="end" class="tk">150</text>
<line x1="93.3" y1="928.8" x2="100.3" y2="928.8" stroke="#1c1a1b" stroke-width="2.4" />
<text transform="translate(91.7 934.3) scale(1 1.05)" font-size="17.5" text-anchor="end" class="tk">200</text>
<path d="M132.7 924.2 V919.2 H303.2 V924.2" fill="none" stroke="#2b2b2b" stroke-width="1.5"/>
<text x="220.7" y="912.6" font-size="15.7" text-anchor="middle" class="tl"><tspan font-style="italic">P</tspan> = 0.0008</text>
<line x1="133.7" y1="1034.56" x2="302" y2="965.86" stroke="#858585" stroke-width="2.2" stroke-dasharray="4 3.6"/>
<line x1="133.7" y1="1055.41" x2="302" y2="945.01" stroke="#858585" stroke-width="2.2" stroke-dasharray="4 3.6"/>
<line x1="133.7" y1="1046.92" x2="302" y2="997.12" stroke="#858585" stroke-width="2.2" stroke-dasharray="4 3.6"/>
<line x1="133.7" y1="1057.72" x2="302" y2="1029.16" stroke="#2a2a2a" stroke-width="2.2" stroke-dasharray="4 3.6"/>
<line x1="133.7" y1="1059.27" x2="302" y2="1029.16" stroke="#2a2a2a" stroke-width="2.2" stroke-dasharray="4 3.6"/>
<line x1="133.7" y1="1061.58" x2="302" y2="1039.2" stroke="#858585" stroke-width="2.2" stroke-dasharray="4 3.6"/>
<line x1="133.7" y1="1060.04" x2="302" y2="1044.21" stroke="#858585" stroke-width="2.2" stroke-dasharray="4 3.6"/>
<line x1="133.7" y1="1061.58" x2="302" y2="1045.76" stroke="#858585" stroke-width="2.2" stroke-dasharray="4 3.6"/>
<line x1="307.47" y1="944.4" x2="311" y2="944" stroke="#9a9a9a" stroke-width="0.8" stroke-dasharray="1.6 1.2"/>
<line x1="307.19" y1="967.67" x2="311" y2="969" stroke="#9a9a9a" stroke-width="0.8" stroke-dasharray="1.6 1.2"/>
<line x1="307.5" y1="997.05" x2="311" y2="997" stroke="#9a9a9a" stroke-width="0.8" stroke-dasharray="1.6 1.2"/>
<line x1="306.07" y1="1025.47" x2="311" y2="1021" stroke="#9a9a9a" stroke-width="0.8" stroke-dasharray="1.6 1.2"/>
<line x1="307.34" y1="1037.89" x2="311" y2="1037" stroke="#9a9a9a" stroke-width="0.8" stroke-dasharray="1.6 1.2"/>
<line x1="305.17" y1="1048.71" x2="311" y2="1057" stroke="#9a9a9a" stroke-width="0.8" stroke-dasharray="1.6 1.2"/>
<line x1="304.03" y1="1050.48" x2="311" y2="1068" stroke="#9a9a9a" stroke-width="0.8" stroke-dasharray="1.6 1.2"/>
<line x1="303.48" y1="1051.06" x2="311" y2="1078" stroke="#9a9a9a" stroke-width="0.8" stroke-dasharray="1.6 1.2"/>
<circle cx="133.7" cy="1034.56" r="5.25" fill="#1c1a1b"/>
<circle cx="133.7" cy="1046.92" r="5.25" fill="#1c1a1b"/>
<circle cx="133.7" cy="1056.18" r="5.25" fill="#1c1a1b"/>
<circle cx="133.7" cy="1059.27" r="5.25" fill="#1c1a1b"/>
<circle cx="133.7" cy="1061.58" r="5.25" fill="#1c1a1b"/>
<circle cx="302" cy="945.01" r="5.25" fill="#1c1a1b"/>
<circle cx="302" cy="965.86" r="5.25" fill="#1c1a1b"/>
<circle cx="302" cy="997.12" r="5.25" fill="#1c1a1b"/>
<circle cx="302" cy="1029.16" r="5.25" fill="#1c1a1b"/>
<circle cx="302" cy="1039.2" r="5.25" fill="#1c1a1b"/>
<circle cx="302" cy="1044.21" r="5.25" fill="#1c1a1b"/>
<circle cx="302" cy="1045.76" r="5.25" fill="#1c1a1b"/>
<text x="312.5" y="948.5" font-size="12.6" class="tl">P5</text>
<text x="312.5" y="974" font-size="12.6" class="tl">P4</text>
<text x="312.5" y="1001.6" font-size="12.6" class="tl">P7</text>
<text x="312.5" y="1025.1" font-size="12.6" class="tl">P8</text>
<text x="312.5" y="1041.9" font-size="12.6" class="tl">P1</text>
<line x1="312.2" y1="1043.9" x2="329.2" y2="1043.9" stroke="#333" stroke-width="1.1" />
<text x="312.5" y="1061.3" font-size="12.6" class="tl">P6</text>
<text x="312.5" y="1072.1" font-size="12.6" class="tl">P3</text>
<line x1="312.2" y1="1074.1" x2="329.2" y2="1074.1" stroke="#333" stroke-width="1.1" />
<text x="312.5" y="1082.1" font-size="12.6" class="tl">P2</text>
<line x1="312.2" y1="1084.1" x2="329.2" y2="1084.1" stroke="#333" stroke-width="1.1" />
<text transform="translate(52.2 1008) rotate(-90)" font-size="20.9" font-weight="bold" text-anchor="middle">ALAT [U/L]</text>
<text x="-1.2" y="919" font-size="26.5" font-weight="bold" text-anchor="start" >i</text>
<path d="M449.4 909.2 V1099.5 H686" fill="none" stroke="#1c1a1b" stroke-width="2.5" stroke-linejoin="miter" stroke-linecap="butt"/>
<line x1="483" y1="1099.5" x2="483" y2="1106.5" stroke="#1c1a1b" stroke-width="2.4" />
<line x1="651.4" y1="1099.5" x2="651.4" y2="1106.5" stroke="#1c1a1b" stroke-width="2.4" />
<line x1="442.4" y1="1083.3" x2="449.4" y2="1083.3" stroke="#1c1a1b" stroke-width="2.4" />
<text transform="translate(440.8 1088.8) scale(1 1.05)" font-size="17.5" text-anchor="end" class="tk">0</text>
<line x1="442.4" y1="1042.3" x2="449.4" y2="1042.3" stroke="#1c1a1b" stroke-width="2.4" />
<text transform="translate(440.8 1047.8) scale(1 1.05)" font-size="17.5" text-anchor="end" class="tk">200</text>
<line x1="442.4" y1="1001.2" x2="449.4" y2="1001.2" stroke="#1c1a1b" stroke-width="2.4" />
<text transform="translate(440.8 1006.7) scale(1 1.05)" font-size="17.5" text-anchor="end" class="tk">400</text>
<line x1="442.4" y1="960.2" x2="449.4" y2="960.2" stroke="#1c1a1b" stroke-width="2.4" />
<text transform="translate(440.8 965.7) scale(1 1.05)" font-size="17.5" text-anchor="end" class="tk">600</text>
<line x1="442.4" y1="919.1" x2="449.4" y2="919.1" stroke="#1c1a1b" stroke-width="2.4" />
<text transform="translate(440.8 924.6) scale(1 1.05)" font-size="17.5" text-anchor="end" class="tk">800</text>
<path d="M482 924.2 V919.2 H651.6 V924.2" fill="none" stroke="#2b2b2b" stroke-width="1.5"/>
<text x="565.6" y="912.6" font-size="15.7" text-anchor="middle" class="tl"><tspan font-style="italic">P</tspan> = 0.0047</text>
<line x1="483" y1="1068.93" x2="651.4" y2="944.96" stroke="#858585" stroke-width="2.2" stroke-dasharray="4 3.6"/>
<line x1="483" y1="1070.98" x2="651.4" y2="999.76" stroke="#858585" stroke-width="2.2" stroke-dasharray="4 3.6"/>
<line x1="483" y1="1073.04" x2="651.4" y2="1016.39" stroke="#858585" stroke-width="2.2" stroke-dasharray="4 3.6"/>
<line x1="483" y1="1072.01" x2="651.4" y2="1050.25" stroke="#858585" stroke-width="2.2" stroke-dasharray="4 3.6"/>
<line x1="483" y1="1074.06" x2="651.4" y2="1053.95" stroke="#858585" stroke-width="2.2" stroke-dasharray="4 3.6"/>
<line x1="483" y1="1075.09" x2="651.4" y2="1057.03" stroke="#858585" stroke-width="2.2" stroke-dasharray="4 3.6"/>
<line x1="656.85" y1="945.69" x2="659.2" y2="946" stroke="#9a9a9a" stroke-width="0.8" stroke-dasharray="1.6 1.2"/>
<line x1="656.9" y1="999.93" x2="659.2" y2="1000" stroke="#9a9a9a" stroke-width="0.8" stroke-dasharray="1.6 1.2"/>
<line x1="656.79" y1="1017.5" x2="659.2" y2="1018" stroke="#9a9a9a" stroke-width="0.8" stroke-dasharray="1.6 1.2"/>
<line x1="656.23" y1="1047.62" x2="659.2" y2="1046" stroke="#9a9a9a" stroke-width="0.8" stroke-dasharray="1.6 1.2"/>
<line x1="656.02" y1="1056.94" x2="659.2" y2="1059" stroke="#9a9a9a" stroke-width="0.8" stroke-dasharray="1.6 1.2"/>
<line x1="653.7" y1="1062.03" x2="659.2" y2="1074" stroke="#9a9a9a" stroke-width="0.8" stroke-dasharray="1.6 1.2"/>
<circle cx="483" cy="1068.11" r="5.25" fill="#1c1a1b"/>
<circle cx="483" cy="1072.01" r="5.25" fill="#1c1a1b"/>
<circle cx="483" cy="1075.09" r="5.25" fill="#1c1a1b"/>
<circle cx="651.4" cy="944.96" r="5.25" fill="#1c1a1b"/>
<circle cx="651.4" cy="999.76" r="5.25" fill="#1c1a1b"/>
<circle cx="651.4" cy="1016.39" r="5.25" fill="#1c1a1b"/>
<circle cx="651.4" cy="1050.25" r="5.25" fill="#1c1a1b"/>
<circle cx="651.4" cy="1053.95" r="5.25" fill="#1c1a1b"/>
<circle cx="651.4" cy="1057.03" r="5.25" fill="#1c1a1b"/>
<text x="660.7" y="950.1" font-size="12.6" class="tl">T3</text>
<line x1="660.4" y1="952" x2="675.9" y2="952" stroke="#333" stroke-width="1.1" />
<text x="660.7" y="1004.1" font-size="12.6" class="tl">T4</text>
<text x="660.7" y="1022.3" font-size="12.6" class="tl">T2</text>
<line x1="660.4" y1="1024.2" x2="675.9" y2="1024.2" stroke="#333" stroke-width="1.1" />
<text x="660.7" y="1050.5" font-size="12.6" class="tl">T5</text>
<text x="660.7" y="1063.1" font-size="12.6" class="tl">T6</text>
<text x="660.7" y="1078.8" font-size="12.6" class="tl">T1</text>
<text x="372" y="919" font-size="26.5" font-weight="bold" text-anchor="start" >j</text>
<path d="M100.3 1133.6 V1327.2 H335.5" fill="none" stroke="#1c1a1b" stroke-width="2.5" stroke-linejoin="miter" stroke-linecap="butt"/>
<line x1="133.7" y1="1327.2" x2="133.7" y2="1334.2" stroke="#1c1a1b" stroke-width="2.4" />
<line x1="302" y1="1327.2" x2="302" y2="1334.2" stroke="#1c1a1b" stroke-width="2.4" />
<line x1="93.3" y1="1310.9" x2="100.3" y2="1310.9" stroke="#1c1a1b" stroke-width="2.4" />
<text transform="translate(91.7 1316.4) scale(1 1.05)" font-size="17.5" text-anchor="end" class="tk">0</text>
<line x1="93.3" y1="1267" x2="100.3" y2="1267" stroke="#1c1a1b" stroke-width="2.4" />
<text transform="translate(91.7 1272.5) scale(1 1.05)" font-size="17.5" text-anchor="end" class="tk">50</text>
<line x1="93.3" y1="1223.1" x2="100.3" y2="1223.1" stroke="#1c1a1b" stroke-width="2.4" />
<text transform="translate(91.7 1228.6) scale(1 1.05)" font-size="17.5" text-anchor="end" class="tk">100</text>
<line x1="93.3" y1="1179.2" x2="100.3" y2="1179.2" stroke="#1c1a1b" stroke-width="2.4" />
<text transform="translate(91.7 1184.7) scale(1 1.05)" font-size="17.5" text-anchor="end" class="tk">150</text>
<line x1="93.3" y1="1135.3" x2="100.3" y2="1135.3" stroke="#1c1a1b" stroke-width="2.4" />
<text transform="translate(91.7 1140.8) scale(1 1.05)" font-size="17.5" text-anchor="end" class="tk">200</text>
<path d="M132.7 1150 V1145 H303.2 V1150" fill="none" stroke="#2b2b2b" stroke-width="1.5"/>
<text x="220.7" y="1137.6" font-size="15.7" text-anchor="middle" class="tl"><tspan font-style="italic">P</tspan> = 0.0055</text>
<line x1="133.7" y1="1214.58" x2="302" y2="1173.05" stroke="#858585" stroke-width="2.2" stroke-dasharray="4 3.6"/>
<line x1="133.7" y1="1228.98" x2="302" y2="1236.71" stroke="#858585" stroke-width="2.2" stroke-dasharray="4 3.6"/>
<line x1="133.7" y1="1244.79" x2="302" y2="1169.54" stroke="#858585" stroke-width="2.2" stroke-dasharray="4 3.6"/>
<line x1="133.7" y1="1248.21" x2="302" y2="1227.31" stroke="#858585" stroke-width="2.2" stroke-dasharray="4 3.6"/>
<line x1="133.7" y1="1259.89" x2="302" y2="1188.86" stroke="#858585" stroke-width="2.2" stroke-dasharray="4 3.6"/>
<line x1="133.7" y1="1272.71" x2="302" y2="1210.81" stroke="#2a2a2a" stroke-width="2.2" stroke-dasharray="4 3.6"/>
<line x1="133.7" y1="1275.43" x2="302" y2="1221.61" stroke="#858585" stroke-width="2.2" stroke-dasharray="4 3.6"/>
<line x1="133.7" y1="1244.79" x2="302" y2="1210.81" stroke="#858585" stroke-width="2.2" stroke-dasharray="4 3.6"/>
<line x1="303.7" y1="1164.31" x2="310.6" y2="1143" stroke="#9a9a9a" stroke-width="0.8" stroke-dasharray="1.6 1.2"/>
<line x1="304.6" y1="1168.21" x2="310.6" y2="1157" stroke="#9a9a9a" stroke-width="0.8" stroke-dasharray="1.6 1.2"/>
<line x1="305.62" y1="1184.71" x2="310.6" y2="1179" stroke="#9a9a9a" stroke-width="0.8" stroke-dasharray="1.6 1.2"/>
<line x1="305.07" y1="1206.24" x2="310.6" y2="1198" stroke="#9a9a9a" stroke-width="0.8" stroke-dasharray="1.6 1.2"/>
<line x1="306.94" y1="1213.22" x2="310.6" y2="1215" stroke="#9a9a9a" stroke-width="0.8" stroke-dasharray="1.6 1.2"/>
<line x1="305.51" y1="1225.84" x2="310.6" y2="1232" stroke="#9a9a9a" stroke-width="0.8" stroke-dasharray="1.6 1.2"/>
<line x1="304.41" y1="1232.26" x2="310.6" y2="1245" stroke="#9a9a9a" stroke-width="0.8" stroke-dasharray="1.6 1.2"/>
<line x1="303.98" y1="1241.84" x2="310.6" y2="1259" stroke="#9a9a9a" stroke-width="0.8" stroke-dasharray="1.6 1.2"/>
<circle cx="133.7" cy="1214.58" r="5.25" fill="#1c1a1b"/>
<circle cx="133.7" cy="1228.98" r="5.25" fill="#1c1a1b"/>
<circle cx="133.7" cy="1244.79" r="5.25" fill="#1c1a1b"/>
<circle cx="133.7" cy="1248.21" r="5.25" fill="#1c1a1b"/>
<circle cx="133.7" cy="1259.89" r="5.25" fill="#1c1a1b"/>
<circle cx="133.7" cy="1272.71" r="5.25" fill="#1c1a1b"/>
<circle cx="133.7" cy="1275.43" r="5.25" fill="#1c1a1b"/>
<circle cx="302" cy="1169.54" r="4.3" fill="#1c1a1b"/>
<circle cx="302" cy="1173.05" r="4.3" fill="#1c1a1b"/>
<circle cx="302" cy="1188.86" r="4.3" fill="#1c1a1b"/>
<circle cx="302" cy="1210.81" r="4.3" fill="#1c1a1b"/>
<circle cx="302" cy="1221.61" r="4.3" fill="#1c1a1b"/>
<circle cx="302" cy="1227.31" r="4.3" fill="#1c1a1b"/>
<circle cx="302" cy="1236.71" r="4.3" fill="#1c1a1b"/>
<text x="312.1" y="1147.8" font-size="12.6" class="tl">P5</text>
<text x="312.1" y="1161.2" font-size="12.6" class="tl">P2</text>
<line x1="311.8" y1="1163.2" x2="328.8" y2="1163.2" stroke="#333" stroke-width="1.1" />
<text x="312.1" y="1183.1" font-size="12.6" class="tl">P3</text>
<line x1="311.8" y1="1185.1" x2="328.8" y2="1185.1" stroke="#333" stroke-width="1.1" />
<text x="312.1" y="1202.5" font-size="12.6" class="tl">P1</text>
<line x1="311.8" y1="1204.5" x2="328.8" y2="1204.5" stroke="#333" stroke-width="1.1" />
<text x="312.1" y="1219.3" font-size="12.6" class="tl">P4</text>
<text x="312.1" y="1236.8" font-size="12.6" class="tl">P8</text>
<text x="312.1" y="1249.5" font-size="12.6" class="tl">P7</text>
<text x="312.1" y="1263.6" font-size="12.6" class="tl">P6</text>
<text transform="translate(52.2 1216) rotate(-90)" font-size="20.9" font-weight="bold" text-anchor="middle">ALP [U/L]</text>
<text x="-1.2" y="1146.8" font-size="26.5" font-weight="bold" text-anchor="start" >k</text>
<path d="M449.4 1133.6 V1327.2 H686" fill="none" stroke="#1c1a1b" stroke-width="2.5" stroke-linejoin="miter" stroke-linecap="butt"/>
<line x1="483" y1="1327.2" x2="483" y2="1334.2" stroke="#1c1a1b" stroke-width="2.4" />
<line x1="651.4" y1="1327.2" x2="651.4" y2="1334.2" stroke="#1c1a1b" stroke-width="2.4" />
<line x1="442.4" y1="1310.5" x2="449.4" y2="1310.5" stroke="#1c1a1b" stroke-width="2.4" />
<text transform="translate(440.8 1316) scale(1 1.05)" font-size="17.5" text-anchor="end" class="tk">0</text>
<line x1="442.4" y1="1254.8" x2="449.4" y2="1254.8" stroke="#1c1a1b" stroke-width="2.4" />
<text transform="translate(440.8 1260.3) scale(1 1.05)" font-size="17.5" text-anchor="end" class="tk">400</text>
<line x1="442.4" y1="1199" x2="449.4" y2="1199" stroke="#1c1a1b" stroke-width="2.4" />
<text transform="translate(440.8 1204.5) scale(1 1.05)" font-size="17.5" text-anchor="end" class="tk">800</text>
<line x1="442.4" y1="1143.3" x2="449.4" y2="1143.3" stroke="#1c1a1b" stroke-width="2.4" />
<text transform="translate(440.8 1148.8) scale(1 1.05)" font-size="17.5" text-anchor="end" class="tk">1200</text>
<path d="M482 1150 V1145 H651.6 V1150" fill="none" stroke="#2b2b2b" stroke-width="1.5"/>
<text x="565.6" y="1137.6" font-size="15.7" text-anchor="middle" class="tl"><tspan font-style="italic">P</tspan> = 0.0007</text>
<line x1="483" y1="1301" x2="651.4" y2="1170.1" stroke="#858585" stroke-width="2.2" stroke-dasharray="4 3.6"/>
<line x1="483" y1="1302" x2="651.4" y2="1214.7" stroke="#858585" stroke-width="2.2" stroke-dasharray="4 3.6"/>
<line x1="483" y1="1303" x2="651.4" y2="1217.8" stroke="#858585" stroke-width="2.2" stroke-dasharray="4 3.6"/>
<line x1="483" y1="1305" x2="651.4" y2="1282.5" stroke="#2a2a2a" stroke-width="2.2" stroke-dasharray="4 3.6"/>
<line x1="483" y1="1305.5" x2="651.4" y2="1286.2" stroke="#858585" stroke-width="2.2" stroke-dasharray="4 3.6"/>
<line x1="483" y1="1306" x2="651.4" y2="1290" stroke="#858585" stroke-width="2.2" stroke-dasharray="4 3.6"/>
<line x1="655.22" y1="1166.14" x2="659.2" y2="1162" stroke="#9a9a9a" stroke-width="0.8" stroke-dasharray="1.6 1.2"/>
<line x1="654.85" y1="1210.41" x2="659.2" y2="1205" stroke="#9a9a9a" stroke-width="0.8" stroke-dasharray="1.6 1.2"/>
<line x1="656.49" y1="1219.89" x2="659.2" y2="1221" stroke="#9a9a9a" stroke-width="0.8" stroke-dasharray="1.6 1.2"/>
<line x1="654.01" y1="1277.66" x2="659.2" y2="1268" stroke="#9a9a9a" stroke-width="0.8" stroke-dasharray="1.6 1.2"/>
<line x1="656.49" y1="1284.11" x2="659.2" y2="1283" stroke="#9a9a9a" stroke-width="0.8" stroke-dasharray="1.6 1.2"/>
<line x1="655" y1="1294.16" x2="659.2" y2="1299" stroke="#9a9a9a" stroke-width="0.8" stroke-dasharray="1.6 1.2"/>
<circle cx="483" cy="1301.5" r="5.25" fill="#1c1a1b"/>
<circle cx="483" cy="1305" r="5.25" fill="#1c1a1b"/>
<circle cx="651.4" cy="1170.1" r="5.25" fill="#1c1a1b"/>
<circle cx="651.4" cy="1214.7" r="5.25" fill="#1c1a1b"/>
<circle cx="651.4" cy="1217.8" r="5.25" fill="#1c1a1b"/>
<circle cx="651.4" cy="1282.5" r="5.25" fill="#1c1a1b"/>
<circle cx="651.4" cy="1286.2" r="5.25" fill="#1c1a1b"/>
<circle cx="651.4" cy="1290" r="5.25" fill="#1c1a1b"/>
<text x="660.7" y="1166.7" font-size="12.6" class="tl">T2</text>
<line x1="660.4" y1="1168.6" x2="675.9" y2="1168.6" stroke="#333" stroke-width="1.1" />
<text x="660.7" y="1209.7" font-size="12.6" class="tl">T6</text>
<text x="660.7" y="1225.4" font-size="12.6" class="tl">T3</text>
<line x1="660.4" y1="1227.3" x2="675.9" y2="1227.3" stroke="#333" stroke-width="1.1" />
<text x="660.7" y="1272.8" font-size="12.6" class="tl">T1</text>
<text x="660.7" y="1287.5" font-size="12.6" class="tl">T4</text>
<text x="660.7" y="1303.2" font-size="12.6" class="tl">T5</text>
<text x="372" y="1146.8" font-size="26.5" font-weight="bold" text-anchor="start" >l</text>
<text x="133.3" y="1354.6" font-size="21" font-weight="bold" text-anchor="middle" >0 d</text>
<text x="301.2" y="1354.6" font-size="21" font-weight="bold" text-anchor="middle" >3 d</text>
<text x="226.2" y="1385.3" font-size="21" font-weight="bold" text-anchor="middle" >Prednisolone</text>
<text x="486" y="1354.6" font-size="21" font-weight="bold" text-anchor="middle" >0 w</text>
<text x="648.4" y="1354.6" font-size="21" font-weight="bold" text-anchor="middle" >25 w</text>
<text x="571" y="1385.3" font-size="21" font-weight="bold" text-anchor="middle" >Tetracosactide</text>
</svg>
</body></html>
